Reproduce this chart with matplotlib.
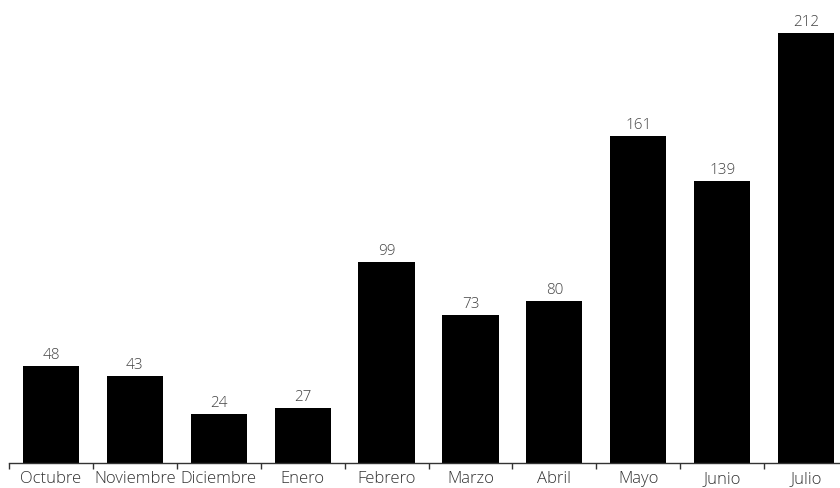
import matplotlib.pyplot as plt
import numpy as np

months = ['Octubre', 'Noviembre', 'Diciembre', 'Enero', 'Febrero',
          'Marzo', 'Abril', 'Mayo', 'Junio', 'Julio']
counts = [48, 43, 24, 27, 99, 73, 80, 161, 139, 212]

plt.rcParams['font.family'] = ['Open Sans', 'DejaVu Sans']

fig = plt.figure(figsize=(8.4, 4.88), dpi=100)
ax = fig.add_axes([9 / 840, 25 / 488, 839 / 840, 463 / 488])

x = np.arange(len(months))
bars = ax.bar(x, counts, width=0.67, color='black')
for b, v in zip(bars, counts):
    ax.text(b.get_x() + b.get_width() / 2, v + 1.5, str(v), ha='center', va='bottom',
            fontsize=11, color='#444444', fontweight='light')

ax.set_xlim(-0.5, len(months) - 0.5)
ax.set_ylim(0, 228.3)

for s in ['top', 'right', 'left']:
    ax.spines[s].set_visible(False)
ax.spines['bottom'].set_color('#333333')
ax.spines['bottom'].set_linewidth(1)
ax.set_yticks([])

ax.set_xticks(x)
ax.set_xticklabels(months, fontsize=12, color='#333333', fontweight='light')
ax.tick_params(axis='x', which='major', length=0, pad=6)
ax.set_xticks(np.arange(len(months) + 1) - 0.5, minor=True)
ax.tick_params(axis='x', which='minor', length=4, color='#333333', width=1)

fig.savefig('out.png', dpi=100)
